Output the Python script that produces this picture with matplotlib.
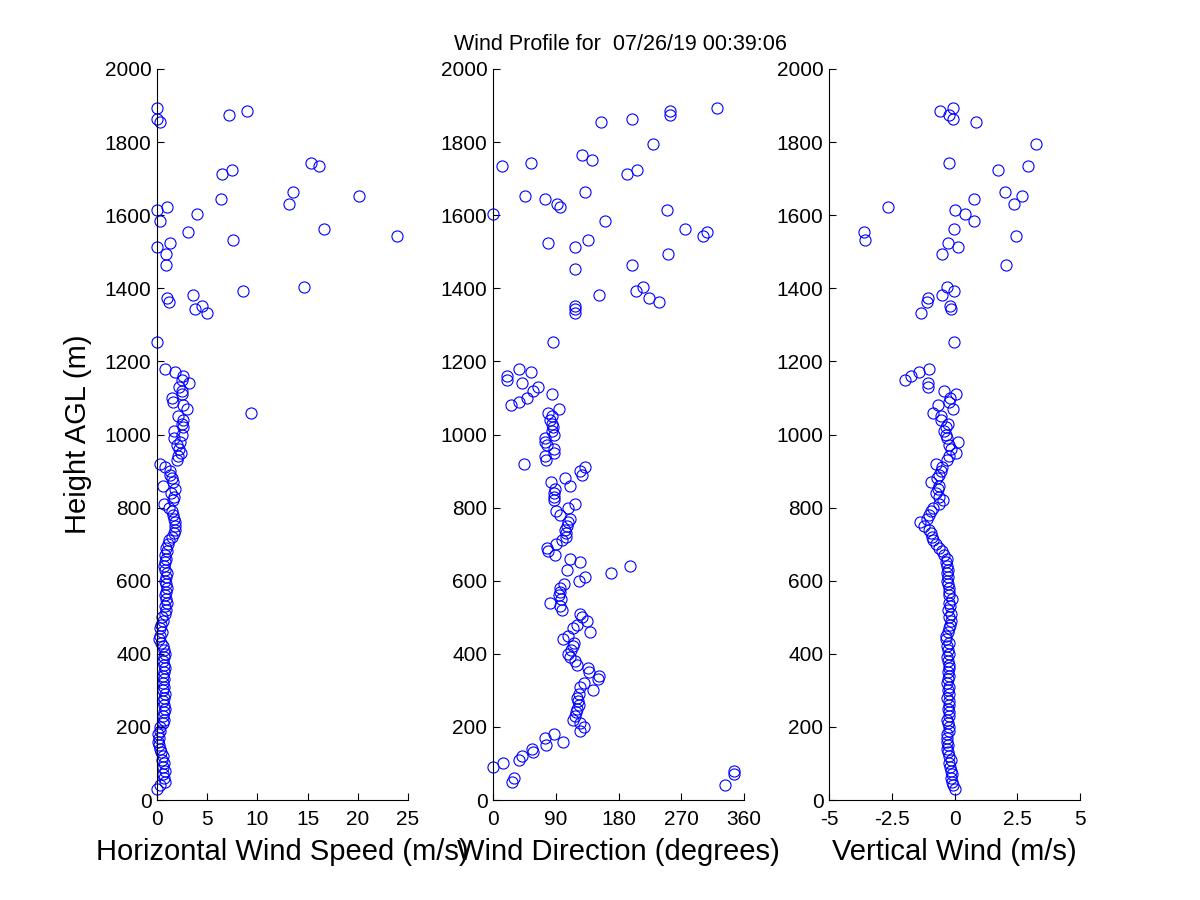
import numpy as np
import matplotlib
matplotlib.use("Agg")
from matplotlib import pyplot as plt

plt.rcParams['font.family'] = ['Liberation Sans', 'DejaVu Sans']

# gate heights (m AGL), dense lower part
height_low = [30, 40, 50, 60, 70, 80, 90, 100, 110, 120,
              130, 140, 150, 160, 170, 180, 190, 200, 210, 220,
              230, 240, 250, 260, 270, 280, 290, 300, 310, 320,
              330, 340, 350, 360, 370, 380, 390, 400, 410, 420,
              430, 440, 450, 460, 470, 480, 490, 500, 510, 520,
              530, 540, 550, 560, 570, 580, 590, 600, 610, 620,
              630, 640, 650, 660, 670, 680, 690, 700, 710, 720,
              730, 740, 750, 760, 770, 780, 790, 800, 810, 820,
              830, 840, 850, 860, 870, 880, 890, 900, 910, 920,
              930, 940, 950, 960, 970, 980, 990, 1000, 1010, 1020,
              1030, 1040, 1050, 1060, 1070, 1080, 1090, 1100, 1110, 1120,
              1130, 1140, 1150, 1160, 1170, 1180]

# sparse upper gates
height_up = [1252, 1332, 1343, 1352, 1362, 1373, 1381, 1392, 1403, 1452,
             1464, 1494, 1513, 1524, 1531, 1543, 1554, 1562, 1583, 1602,
             1614, 1622, 1632, 1643, 1652, 1663, 1713, 1723, 1734, 1743,
             1752, 1765, 1794, 1854, 1862, 1874, 1885, 1894]

nan = np.nan

speed_low = [0.0, 0.3, 0.8, 0.7, 0.6, 0.8, 0.6, 0.7, 0.5, 0.6,
             0.4, 0.3, 0.2, 0.1, 0.2, 0.1, 0.3, 0.3, 0.6, 0.7,
             0.6, 0.7, 0.8, 0.7, 0.6, 0.7, 0.8, 0.6, 0.7, 0.6,
             0.7, 0.6, 0.7, 0.8, 0.7, 0.6, 0.7, 0.8, 0.7, 0.6,
             0.4, 0.2, 0.3, 0.5, 0.3, 0.4, 0.6, 0.5, 0.8, 0.9,
             0.8, 1.0, 0.9, 0.8, 0.9, 1.0, 0.9, 0.8, 0.9, 1.0,
             0.8, 0.7, 0.8, 0.9, 0.8, 1.0, 0.9, 1.1, 1.2, 1.5,
             1.7, 1.8, 1.8, 1.8, 1.7, 1.6, 1.5, 1.2, 0.7, 1.6,
             1.7, 1.4, 1.8, 0.6, 1.6, 1.5, 1.3, 1.3, 0.8, 0.3,
             2.0, 2.1, 2.4, 2.2, 2.0, 2.3, 1.7, 2.5, 1.7, 2.6,
             2.5, 2.6, 2.1, 9.4, 3.0, 2.6, 1.6, 1.5, 2.5, 2.5,
             2.2, 3.2, 2.5, 2.6, 1.8, 0.8]
speed_up = [0.0, 5.0, 3.8, 4.5, 1.2, 1.0, 3.6, 8.6, 14.6, nan,
            0.9, 0.9, 0.0, 1.3, 7.6, 23.9, 3.1, 16.6, 0.3, 4.0,
            0.0, 1.0, 13.1, 6.4, 20.1, 13.5, 6.5, 7.5, 16.1, 15.3,
            nan, nan, nan, 0.3, 0.0, 7.2, 9.0, 0.0]

dir_low = [nan, 333, 27, 30, 345, 345, 0.5, 14, 38, 42,
           58, 56, 76, 101, 75, 87, 125, 131, 125, 115,
           118, 119, 120, 123, 122, 120, 124, 143, 125, 130,
           150, 152, 137, 136, 120, 118, 111, 107, 112, 115,
           116, 101, 108, 139, 115, 120, 135, 128, 125, 99,
           96, 82, 98, 95, 96, 96, 102, 124, 132, 169,
           106, 197, 125, 110, 89, 79, 77, 91, 99, 105,
           105, 103, 106, 108, 110, 96, 91, 107, 118, 88,
           87, 87, 89, 111, 83, 103, 128, 125, 132, 45,
           76, 75, 88, 88, 77, 75, 75, 87, 85, 86,
           84, 82, 84, 79, 95, 26, 37, 49, 85, 58,
           65, 42, 20, 20, 54, 38]
dir_up = [86.5, 117, 117, 117, 238, 224, 152, 205, 215, 118,
          199, 251, 118, 79, 136, 301.5, 307, 276, 161, 0.5,
          250, 96.5, 92, 75, 46, 132, 192, 207, 13, 54,
          141.5, 128, 230, 155, 199, 254, 254, 321.7]

w_low = [0.0, -0.05, -0.1, -0.15, -0.1, -0.12, -0.18, -0.2, -0.15, -0.22,
         -0.25, -0.3, -0.25, -0.3, -0.28, -0.3, -0.22, -0.2, -0.25, -0.28,
         -0.2, -0.22, -0.25, -0.2, -0.22, -0.28, -0.2, -0.25, -0.22, -0.28,
         -0.25, -0.2, -0.25, -0.22, -0.2, -0.25, -0.3, -0.22, -0.25, -0.3,
         -0.22, -0.32, -0.35, -0.25, -0.22, -0.18, -0.15, -0.2, -0.15, -0.25,
         -0.18, -0.2, -0.1, -0.2, -0.22, -0.2, -0.25, -0.28, -0.25, -0.3,
         -0.25, -0.3, -0.35, -0.3, -0.42, -0.5, -0.6, -0.75, -0.85, -0.88,
         -0.95, -1.0, -1.2, -1.38, -1.1, -1.0, -0.94, -0.85, -0.6, -0.45,
         -0.6, -0.74, -0.65, -0.6, -0.94, -0.68, -0.6, -0.55, -0.5, -0.74,
         -0.28, -0.21, 0.05, -0.15, -0.2, 0.12, -0.3, -0.35, -0.4, -0.33,
         -0.27, -0.53, -0.53, -0.86, -0.04, -0.66, -0.2, -0.17, 0.07, -0.4,
         -1.06, -1.06, -1.99, -1.75, -1.42, -1.02]
w_up = [-0.03, -1.34, -0.13, -0.17, -1.1, -1.06, -0.5, -0.01, -0.28, nan,
        2.04, -0.5, 0.13, -0.27, -3.57, 2.46, -3.6, -0.03, 0.77, 0.41,
        0.0, -2.66, 2.36, 0.77, 2.68, 2.0, nan, 1.73, 2.92, -0.23,
        nan, nan, 3.25, 0.85, -0.04, -0.2, -0.56, -0.04]

height = np.array(height_low + height_up, dtype=float)
speed = np.array(speed_low + speed_up, dtype=float)
direction = np.array(dir_low + dir_up, dtype=float)
w = np.array(w_low + w_up, dtype=float)

fig = plt.figure(figsize=(12, 9), dpi=100)

bottom = 100 / 900
hgt = 731 / 900
lefts = [157 / 1200, 493 / 1200, 829 / 1200]
wid = 251 / 1200

panels = [
    (speed, (0, 25), [0, 5, 10, 15, 20, 25], ['0', '5', '10', '15', '20', '25'],
     'Horizontal Wind Speed (m/s)'),
    (direction, (0, 360), [0, 90, 180, 270, 360], ['0', '90', '180', '270', '360'],
     'Wind Direction (degrees)'),
    (w, (-5, 5), [-5, -2.5, 0, 2.5, 5], ['-5', '-2.5', '0', '2.5', '5'],
     'Vertical Wind (m/s)'),
]

axes = []
for i, (vals, xlim, xt, xtl, xlab) in enumerate(panels):
    ax = fig.add_axes([lefts[i], bottom, wid, hgt])
    ax.plot(vals, height, linestyle='none', marker='o', markersize=8,
            markerfacecolor='none', markeredgecolor='#0000ff',
            markeredgewidth=0.8, clip_on=False)
    ax.set_xlim(*xlim)
    ax.set_ylim(0, 2000)
    ax.set_xticks(xt)
    ax.set_xticklabels(xtl)
    ax.set_yticks(range(0, 2001, 200))
    ax.spines['top'].set_visible(False)
    ax.spines['right'].set_visible(False)
    ax.spines['left'].set_linewidth(0.8)
    ax.spines['bottom'].set_linewidth(0.8)
    ax.tick_params(direction='in', length=5, width=0.8, labelsize=15)
    ax.tick_params(axis='x', pad=7)
    ax.tick_params(axis='y', pad=4)
    ax.set_xlabel(xlab, fontsize=21, labelpad=7)
    axes.append(ax)

axes[0].set_ylabel('Height AGL (m)', fontsize=21, labelpad=9)

fig.text(0.517, 1 - 45 / 900, 'Wind Profile for  07/26/19 00:39:06',
         ha='center', va='center', fontsize=15.5)

fig.savefig('out.png', dpi=100)
